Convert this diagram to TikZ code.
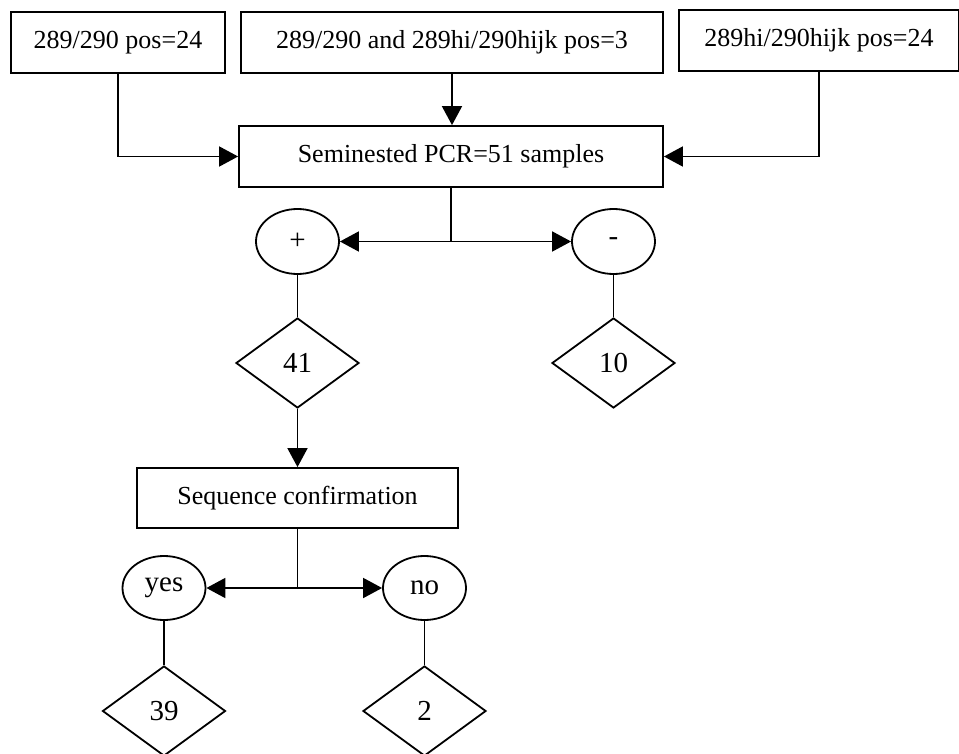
\documentclass[tikz,border=0pt]{standalone}
\usepackage{fontspec}
\setmainfont{Liberation Serif}
\usetikzlibrary{arrows.meta,shapes.geometric}

\begin{document}
\begin{tikzpicture}[line width=1.8pt, line join=miter, >={Triangle[length=19pt,width=20pt]}, x=1pt,y=-1pt,
  box/.style={draw, rectangle, inner sep=0pt, minimum height=61pt, font=\fontsize{26}{30}\selectfont},
  oval/.style={draw, ellipse, inner sep=0pt, minimum width=83pt, minimum height=65pt, font=\fontsize{29}{33}\selectfont},
  dia/.style={draw, diamond, inner sep=0pt, minimum width=123pt, minimum height=90pt, font=\fontsize{29}{33}\selectfont}]
  \useasboundingbox (0,0) rectangle (959,754);
  \node[box, minimum width=214pt] (topL) at (118,42.5) {289/290 pos=24};
  \node[box, minimum width=422pt] (topM) at (452,42.5) {289/290 and 289hi/290hijk pos=3};
  \node[box, minimum width=280pt] (topR) at (819,40.5) {289hi/290hijk pos=24};
  \node[box, minimum width=424pt] (pcr) at (451,156.5) {Seminested PCR=51 samples};
  \node[oval] (plus) at (297.5,241.5) {+};
  \node[oval] (minus) at (613.5,241.5) {-};
  \node[dia] (d41) at (297.5,363) {41};
  \node[dia] (d10) at (613.5,363) {10};
  \node[box, minimum width=321pt, minimum height=60pt] (seq) at (297.5,498) {Sequence confirmation};
  \node[oval, minimum height=64pt] (yes) at (164,588) {yes};
  \node[oval, minimum height=64pt] (no) at (424.5,588) {no};
  \node[dia] (d39) at (164,711) {39};
  \node[dia] (d2) at (424.5,711) {2};
  \coordinate (j1) at (451,241.5);
  \coordinate (j2) at (297.5,588);

  \draw[->] (topL.south) |- (pcr.west);
  \draw[->] (topM.south) -- (topM.south |- pcr.north);
  \draw[->] (topR.south) |- (pcr.east);
  \draw (pcr.south) -- (j1);
  \draw[->] (j1) -- (plus.east);
  \draw[->] (j1) -- (minus.west);
  \draw (plus.south) -- (d41.north);
  \draw (minus.south) -- (d10.north);
  \draw[->] (d41.south) -- (seq.north);
  \draw (seq.south) -- (j2);
  \draw[->] (j2) -- (yes.east);
  \draw[->] (j2) -- (no.west);
  \draw (yes.south) -- (d39.north);
  \draw (no.south) -- (d2.north);
\end{tikzpicture}
\end{document}
